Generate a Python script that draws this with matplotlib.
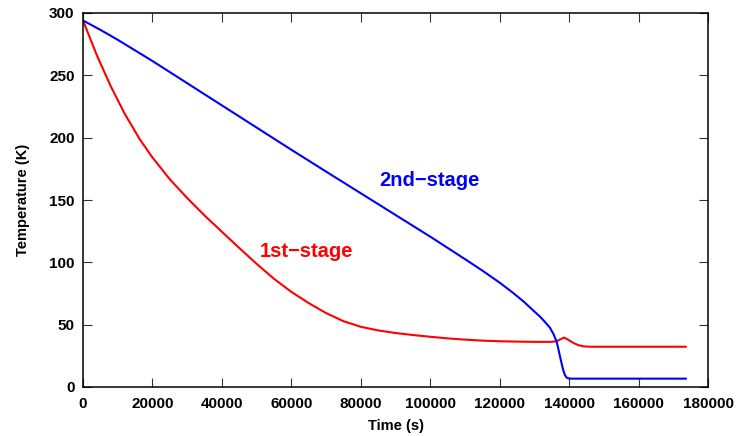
import matplotlib
matplotlib.use("Agg")
import matplotlib.pyplot as plt

plt.rcParams['font.family'] = ['Liberation Sans', 'DejaVu Sans']
plt.rcParams['font.weight'] = 'bold'

# 1st-stage (red)
t1 = [0, 4000, 8000, 12000, 16400, 20000, 25000, 30000, 35000, 40000, 45000,
      50000, 55000, 60000, 65000, 70000, 75000, 80000, 85000, 90000, 95000,
      100000, 105000, 110000, 115000, 120000, 125000, 130000, 135000, 136500,
      137500, 138600, 139800, 141200, 142600, 144100, 146000, 173600]
T1 = [294, 266, 241.2, 219.2, 198.5, 184.1, 166.6, 151.6, 137.6, 124.5, 111.5,
      98.8, 86.8, 76.3, 67.3, 59.3, 52.8, 48.3, 45.4, 43.3, 41.7,
      40.3, 39.0, 38.0, 37.2, 36.7, 36.4, 36.2, 36.2, 36.8,
      38.3, 39.6, 37.8, 35.4, 33.6, 32.6, 32.3, 32.3]

# 2nd-stage (blue)
t2 = [0, 5000, 10000, 20000, 30000, 40000, 50000, 60000, 70000, 80000, 90000,
      100000, 110000, 115000, 120000, 124000, 127000, 129500, 131600, 133000,
      134500, 135500, 136400, 136900, 137400, 137900, 138300, 138800, 139300,
      140000, 141000, 173600]
T2 = [294, 286.5, 278.5, 261.5, 243.7, 225.9, 208.1, 190.3, 172.8, 155.4, 138.0,
      120.6, 102.6, 93.4, 83.7, 75.2, 68.3, 61.8, 56.5, 52.3,
      47.5, 42.5, 36.4, 30.5, 24.3, 18.2, 13.6, 9.5, 7.5,
      6.8, 6.7, 6.7]

xticks = [0, 20000, 40000, 60000, 80000, 100000, 120000, 140000, 160000, 180000]
yticks = [0, 50, 100, 150, 200, 250, 300]

fig = plt.figure(figsize=(7.38, 4.36), dpi=100)
ax = fig.add_axes([83/738, 1-387/436, 625/738, 374/436])

ax.plot(t1, T1, color='#ff0000', lw=1.5)
ax.plot(t2, T2, color='#0000ff', lw=1.5)

ax.set_xlim(0, 180000)
ax.set_ylim(0, 300)
ax.set_xticks(xticks)
ax.set_yticks(yticks)
ax.set_xticklabels([str(v) for v in xticks], fontsize=11, fontweight='bold')
ax.set_yticklabels([str(v) for v in yticks], fontsize=11, fontweight='bold')
ax.tick_params(direction='in', length=6.5, width=0.8, top=True, right=True,
               color='#333333')
ax.tick_params(axis='x', pad=7)
ax.tick_params(axis='y', pad=6)
for s in ax.spines.values():
    s.set_linewidth(1.1)

ax.set_xlabel('Time (s)', fontsize=10.5, fontweight='bold', labelpad=6)
ax.set_ylabel('Temperature (K)', fontsize=10.5, fontweight='bold', labelpad=14)

ax.text(99650, 166, '2nd\u2212stage', color='#0000ff', fontsize=14.5,
        fontweight='bold', ha='center', va='center')
ax.text(64500, 108.3, '1st\u2212stage', color='#ff0000', fontsize=14.5,
        fontweight='bold', ha='center', va='center')

fig.savefig('out.png', dpi=100)
